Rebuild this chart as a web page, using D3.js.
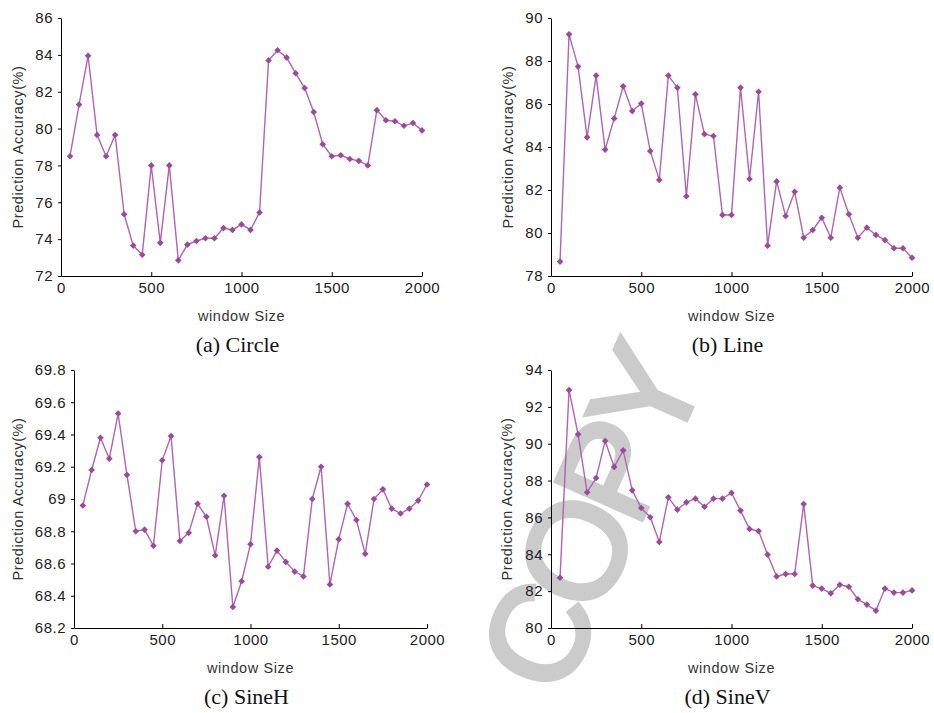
<!DOCTYPE html>
<html>
<head>
<meta charset="utf-8">
<script src="https://cdn.jsdelivr.net/npm/d3@7"></script>
<style>
  body { margin: 0; background: #fff; }
  .axis text { font-family: "Liberation Sans", Arial, sans-serif; font-size: 15px; fill: #222; letter-spacing: 0.5px; }
  .axis path, .axis line { stroke: #000; }
  .label { font-family: "Liberation Sans", Arial, sans-serif; font-size: 14.5px; fill: #333; letter-spacing: 0.6px; }
  .caption { font-family: "Liberation Serif", "Times New Roman", serif; font-size: 22px; fill: #111; }
</style>
</head>
<body>
<div class="data"></div>
<script>
const windowSizes = [50, 100, 150, 200, 250, 300, 350, 400, 450, 500,
    550, 600, 650, 700, 750, 800, 850, 900, 950, 1000,
    1050, 1100, 1150, 1200, 1250, 1300, 1350, 1400, 1450, 1500,
    1550, 1600, 1650, 1700, 1750, 1800, 1850, 1900, 1950, 2000]

const circleAcc = [78.5, 81.3, 83.95, 79.65, 78.5, 79.65, 75.35, 73.65, 73.15, 78.0,
    73.8, 78.0, 72.85, 73.7, 73.9, 74.05, 74.05, 74.6, 74.5, 74.8,
    74.5, 75.45, 83.7, 84.25, 83.85, 83.0, 82.2, 80.9, 79.15, 78.5,
    78.55, 78.35, 78.25, 78.0, 81.0, 80.45, 80.4, 80.15, 80.3, 79.9]

const lineAcc = [78.67, 89.24, 87.74, 84.45, 87.32, 83.88, 85.33, 86.82, 85.67, 86.02,
    83.81, 82.47, 87.32, 86.76, 81.71, 86.45, 84.6, 84.51, 80.84, 80.84,
    86.76, 82.51, 86.57, 79.41, 82.4, 80.79, 81.92, 79.78, 80.14, 80.71,
    79.78, 82.11, 80.87, 79.78, 80.25, 79.91, 79.67, 79.29, 79.29, 78.85]

const sineHAcc = [68.96, 69.18, 69.38, 69.25, 69.53, 69.15, 68.80, 68.81, 68.71, 69.24,
    69.39, 68.74, 68.79, 68.97, 68.89, 68.65, 69.02, 68.33, 68.49, 68.72,
    69.26, 68.58, 68.68, 68.61, 68.55, 68.52, 69.0, 69.2, 68.47, 68.75,
    68.97, 68.87, 68.66, 69.0, 69.06, 68.94, 68.91, 68.94, 68.99, 69.09]

const sineVAcc = [82.73, 92.91, 90.51, 87.36, 88.14, 90.15, 88.74, 89.64, 87.47, 86.51,
    86.01, 84.67, 87.09, 86.42, 86.82, 87.02, 86.58, 87.02, 87.02, 87.33,
    86.37, 85.37, 85.26, 83.98, 82.8, 82.93, 82.93, 86.73, 82.3, 82.14,
    81.88, 82.35, 82.24, 81.56, 81.27, 80.94, 82.14, 81.92, 81.92, 82.04]

const xTicks = [0, 500, 1000, 1500, 2000]
const circleTicks = [72, 74, 76, 78, 80, 82, 84, 86]
const lineTicks = [78, 80, 82, 84, 86, 88, 90]
const sineHTicks = [68.2, 68.4, 68.6, 68.8, 69, 69.2, 69.4, 69.6, 69.8]
const sineVTicks = [80, 82, 84, 86, 88, 90, 92, 94]

const captions = ["(a) Circle", "(b) Line", "(c) SineH", "(d) SineV"]

const lineColor = "#b164b1",
    markColor = "#9b4a9b"

const svg = d3.select('.data').append("svg")
    .attr("width", 934)
    .attr("height", 713)

// watermark, sits behind everything
svg.append("text")
    .attr("transform", "translate(588,520) rotate(-66)")
    .attr("text-anchor", "middle")
    .attr("dy", "0.36em")
    .style("font-family", "'Liberation Sans', Arial, sans-serif")
    .style("font-size", "136px")
    .style("letter-spacing", "-9px")
    .style("fill", "#cbcbcb")
    .style("stroke", "#cbcbcb")
    .style("stroke-width", 5)
    .text("COPY")

const panels = [
    {values: circleAcc, ticks: circleTicks, left: 61, right: 422, top: 18, bottom: 276, titleX: 18, caption: captions[0]},
    {values: lineAcc, ticks: lineTicks, left: 551, right: 912, top: 18, bottom: 276, titleX: 508, caption: captions[1]},
    {values: sineHAcc, ticks: sineHTicks, left: 74, right: 427, top: 370, bottom: 628, titleX: 18, caption: captions[2]},
    {values: sineVAcc, ticks: sineVTicks, left: 551, right: 912, top: 370, bottom: 628, titleX: 507, caption: captions[3]}
]

panels.forEach(function(p) {

    const x = d3.scaleLinear()
        .domain([0, 2000])
        .range([p.left, p.right])

    const y = d3.scaleLinear()
        .domain([p.ticks[0], p.ticks[p.ticks.length - 1]])
        .range([p.bottom, p.top])

    const g = svg.append("g")

    g.append("g")
        .attr("class", "x axis")
        .attr("transform", "translate(0," + p.bottom + ")")
        .call(d3.axisBottom(x).tickValues(xTicks).tickFormat(d3.format("d"))
            .tickSizeInner(-4).tickSizeOuter(0).tickPadding(6))

    g.append("g")
        .attr("class", "y axis")
        .attr("transform", "translate(" + p.left + ",0)")
        .call(d3.axisLeft(y).tickValues(p.ticks).tickSizeInner(3).tickSizeOuter(0).tickPadding(5)
            .tickFormat(function(d) { return String(+d.toFixed(1)) }))

    g.selectAll(".axis text").attr("fill", "#222")

    g.append("text")
        .attr("class", "label")
        .attr("transform", "translate(" + p.titleX + "," + (p.top + p.bottom) / 2 + ") rotate(-90)")
        .attr("text-anchor", "middle")
        .attr("dy", "0.35em")
        .text("Prediction Accuracy(%)")

    g.append("text")
        .attr("class", "label")
        .attr("x", (p.left + p.right) / 2)
        .attr("y", p.bottom + 45)
        .attr("text-anchor", "middle")
        .text("window Size")

    g.append("text")
        .attr("class", "caption")
        .attr("x", (p.left + p.right) / 2 - 4)
        .attr("y", p.bottom + 76)
        .attr("text-anchor", "middle")
        .text(p.caption)

    const pts = windowSizes.map(function(w, i) { return [w, p.values[i]] })

    g.append("path")
        .datum(pts)
        .attr("fill", "none")
        .attr("stroke", lineColor)
        .attr("stroke-width", 1.4)
        .attr("d", d3.line()
            .x(function(d) { return x(d[0]) })
            .y(function(d) { return y(d[1]) }))

    g.selectAll(".mark")
        .data(pts)
        .enter().append("path")
        .attr("class", "mark")
        .attr("transform", function(d) { return "translate(" + x(d[0]) + "," + y(d[1]) + ") rotate(45)" })
        .attr("d", d3.symbol(d3.symbolSquare).size(22))
        .attr("fill", markColor)
})
</script>
</body>
</html>
